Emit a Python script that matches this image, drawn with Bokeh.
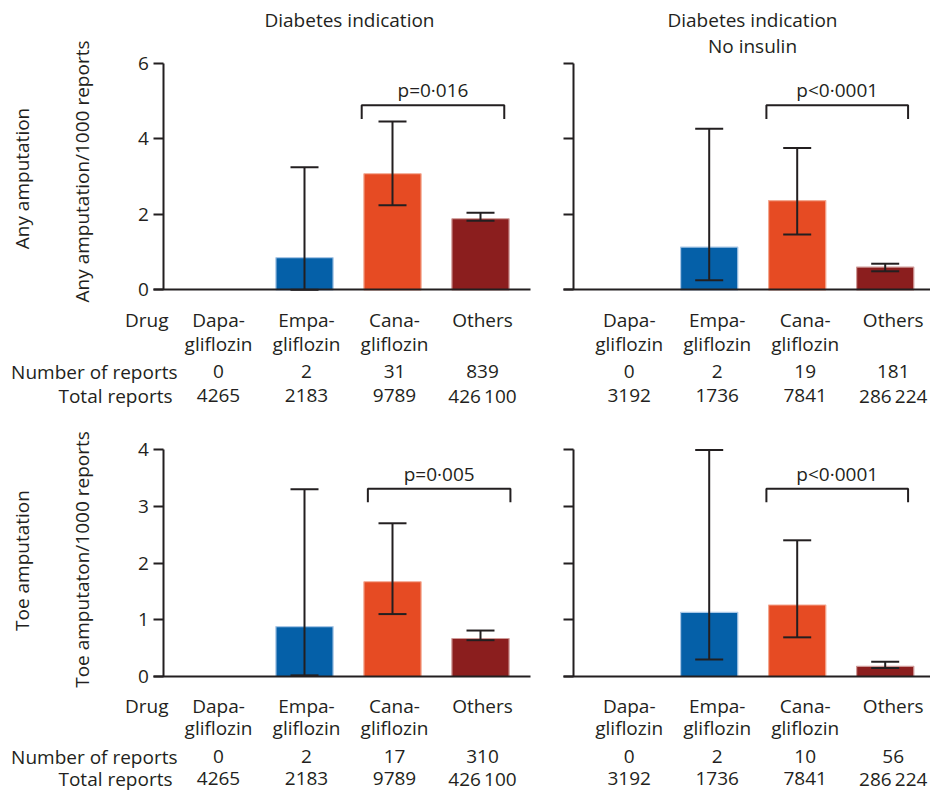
import math
from bokeh.plotting import figure
from bokeh.layouts import column, row
from bokeh.models import LinearAxis, FixedTicker, ColumnDataSource, Whisker, TeeHead, Range1d
from bokeh.core.properties import value
from bokeh.embed import file_html
from bokeh.resources import INLINE

# ---------------- data ----------------
drug_line1 = ["Dapa-", "Empa-", "Cana-", "Others"]
drug_line2 = ["gliflozin", "gliflozin", "gliflozin", ""]
bar_colors = ["#0560a8", "#0560a8", "#e64b23", "#8b1e1e"]
bar_edges = ["#a9c7e6", "#a9c7e6", "#f3a891", "#cf9a98"]

# Diabetes indication - any amputation
any_rate = [0.0, 0.85, 3.07, 1.88]
any_lo = [None, 0.0, 2.24, 1.83]
any_hi = [None, 3.24, 4.45, 2.04]
any_n = ["0", "2", "31", "839"]
any_total = ["4265", "2183", "9789", "426\u2009100"]
any_p = "p=0\u00b7016"

# Diabetes indication, no insulin - any amputation
ni_any_rate = [0.0, 1.13, 2.36, 0.60]
ni_any_lo = [None, 0.25, 1.46, 0.49]
ni_any_hi = [None, 4.26, 3.75, 0.69]
ni_any_n = ["0", "2", "19", "181"]
ni_total = ["3192", "1736", "7841", "286\u2009224"]
ni_any_p = "p<0\u00b70001"

# Diabetes indication - toe amputation
toe_rate = [0.0, 0.88, 1.67, 0.67]
toe_lo = [None, 0.02, 1.10, 0.64]
toe_hi = [None, 3.30, 2.70, 0.81]
toe_n = ["0", "2", "17", "310"]
toe_p = "p=0\u00b7005"

# Diabetes indication, no insulin - toe amputation
ni_toe_rate = [0.0, 1.13, 1.26, 0.18]
ni_toe_lo = [None, 0.30, 0.69, 0.15]
ni_toe_hi = [None, 3.99, 2.40, 0.26]
ni_toe_n = ["0", "2", "10", "56"]
ni_toe_p = "p<0\u00b70001"

# significance brackets: (x from, x to), top, leg end
any_bracket = ((1.65, 3.27), 4.88, 4.52)
ni_any_bracket = ((1.65, 3.26), 4.88, 4.52)
toe_bracket = ((1.72, 3.34), 3.31, 3.07)
ni_toe_bracket = ((1.65, 3.26), 3.31, 3.07)

row_labels = ["Drug", "Number of reports", "Total reports"]
any_ticks = [0, 2, 4, 6]
toe_ticks = [0, 1, 2, 3, 4]

FONT = "Open Sans"
INK = "#231f20"
FS = "19px"
SX = 88.0


def panel(ox, oy, width, height, x0c, basec, sy, axis_px, line_from, line_to,
          ymax, yticks, show_labels, rate, lo, hi, n, total, p_text, bracket,
          titles, ylabels, rlabels, shift, offs):
    def X(px):
        return (px - x0c) / SX

    def Y(py):
        return (basec - py) / sy

    p = figure(width=width, height=height,
               x_range=Range1d(X(ox), X(ox + width)),
               y_range=Range1d(Y(oy + height), Y(oy)),
               x_axis_location=None, y_axis_location=None,
               toolbar_location=None, output_backend="svg",
               min_border=0, min_border_left=0, min_border_right=0,
               min_border_top=0, min_border_bottom=0,
               outline_line_color=None,
               background_fill_color="white", border_fill_color="white")
    p.grid.visible = False

    idx = list(range(len(rate)))
    bi = [i for i in idx if rate[i] > 0]
    bsrc = ColumnDataSource(dict(x=bi, top=[rate[i] for i in bi],
                                 c=[bar_colors[i] for i in bi],
                                 e=[bar_edges[i] for i in bi]))
    p.vbar(x="x", top="top", bottom=0, width=0.65, source=bsrc,
           fill_color="c", line_color="e", line_width=1.2)

    wi = [i for i in idx if lo[i] is not None]
    wsrc = ColumnDataSource(dict(x=wi, lo=[lo[i] for i in wi], hi=[hi[i] for i in wi]))
    w = Whisker(source=wsrc, base="x", lower="lo", upper="hi", dimension="height",
                line_color=INK, line_width=2, level="annotation",
                upper_head=TeeHead(size=28, line_color=INK, line_width=2),
                lower_head=TeeHead(size=28, line_color=INK, line_width=2))
    p.add_layout(w)

    yax = LinearAxis(fixed_location=X(axis_px), bounds=(0, ymax),
                     ticker=FixedTicker(ticks=yticks, minor_ticks=[]),
                     axis_line_color=INK, axis_line_width=2,
                     major_tick_line_color=INK, major_tick_line_width=2,
                     major_tick_in=0, major_tick_out=10,
                     minor_tick_line_color=None,
                     major_label_text_font=FONT, major_label_text_font_size=FS,
                     major_label_text_color=INK, major_label_standoff=5)
    if not show_labels:
        yax.major_label_overrides = {t: "" for t in yticks}
    p.add_layout(yax, "left")

    xax = LinearAxis(fixed_location=0, bounds=(X(line_from), X(line_to)),
                     ticker=FixedTicker(ticks=[], minor_ticks=[]),
                     axis_line_color=INK, axis_line_width=2,
                     major_tick_line_color=None, minor_tick_line_color=None,
                     major_label_text_font_size="0px")
    p.add_layout(xax, "below")

    # bracket + p value
    (bx0, bx1), btop, bleg = bracket
    p.line(x=[bx0, bx0, bx1, bx1], y=[bleg, btop, btop, bleg],
           line_color=INK, line_width=2)
    p.text(x=[(bx0 + bx1) / 2], y=[btop + 15 / sy], text=[p_text],
           text_font=value(FONT), text_font_size=value(FS), text_color=INK,
           text_align="center", text_baseline="middle")

    common = dict(text_font=value(FONT), text_font_size=value(FS), text_color=INK,
                  text_baseline="middle")
    tx = [i + shift / SX for i in idx]
    p.text(x=tx, y=[Y(basec + offs[0])] * 4, text=drug_line1, text_align="center", **common)
    p.text(x=tx, y=[Y(basec + offs[1])] * 4, text=drug_line2, text_align="center", **common)
    p.text(x=tx, y=[Y(basec + offs[2])] * 4, text=n, text_align="center", **common)
    p.text(x=tx, y=[Y(basec + offs[3])] * 4, text=total, text_align="center", **common)

    if rlabels:
        rx = [168, 177, 172]
        ry = [offs[0], offs[2], offs[3]]
        p.text(x=[X(v) for v in rx], y=[Y(basec + v) for v in ry], text=rlabels,
               text_align="right", **common)

    for (tx_, ty_, tt) in titles:
        p.text(x=[X(tx_)], y=[Y(ty_)], text=[tt], text_align="center", **common)

    for (lx, ly, lt) in ylabels:
        p.text(x=[X(lx)], y=[Y(ly)], text=[lt], angle=math.pi / 2,
               text_align="center", **common)
    return p


top_offs = [30, 54, 82, 106]
bot_offs = [29, 51, 80, 102]

p1 = panel(0, 0, 540, 410, 216.0, 289.3, 37.8, 163.3, 153, 530, 6, any_ticks, True,
           any_rate, any_lo, any_hi, any_n, any_total, any_p, any_bracket,
           [(349, 19, "Diabetes indication")],
           [(21, 178, "Any amputation"), (81, 171, "Any amputation/1000 reports")],
           row_labels, 2, top_offs)
p2 = panel(540, 0, 390, 410, 620.7, 289.3, 37.8, 573.3, 563, 930, 6, any_ticks, False,
           ni_any_rate, ni_any_lo, ni_any_hi, ni_any_n, ni_total, ni_any_p, ni_any_bracket,
           [(752, 19, "Diabetes indication"), (752, 45, "No insulin")],
           [], None, 8, top_offs)
p3 = panel(0, 410, 540, 382, 216.0, 676.0, 56.75, 163.3, 153, 530, 4, toe_ticks, True,
           toe_rate, toe_lo, toe_hi, toe_n, any_total, toe_p, toe_bracket,
           [],
           [(21, 560, "Toe amputation"), (81, 559, "Toe amputaton/1000 reports")],
           row_labels, 2, bot_offs)
p4 = panel(540, 410, 390, 382, 620.7, 676.0, 56.75, 573.3, 563, 930, 4, toe_ticks, False,
           ni_toe_rate, ni_toe_lo, ni_toe_hi, ni_toe_n, ni_total, ni_toe_p, ni_toe_bracket,
           [], [], None, 8, bot_offs)

layout = column(row(p1, p2, spacing=0), row(p3, p4, spacing=0), spacing=0)
open("out.html", "w").write(file_html(layout, INLINE))
